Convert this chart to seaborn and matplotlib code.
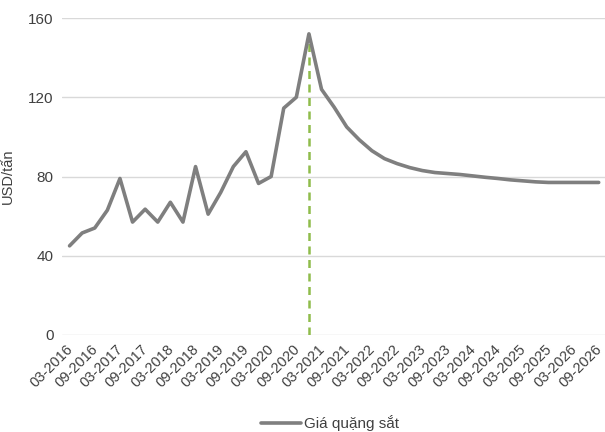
import numpy as np
import pandas as pd
import matplotlib
matplotlib.use("Agg")
import matplotlib.pyplot as plt
import matplotlib.transforms as mtransforms
import seaborn as sns

# quarterly iron ore price, 03-2016 .. 09-2026
months = ['03', '06', '09', '12']
periods = [f"{m}-{y}" for y in range(2016, 2027) for m in months][:43]
prices = [45, 51.5, 54, 63, 79, 57, 63.5, 57, 67, 57,
          85, 61, 72, 85, 92.5, 76.5, 80, 114.5, 120, 152,
          124, 115, 105, 98.5, 93, 89, 86.5, 84.5, 83, 82,
          81.5, 81, 80.3, 79.6, 79, 78.3, 77.8, 77.3, 77, 77,
          77, 77, 77]
peak_idx = 19
y_ticks = [0, 40, 80, 120, 160]
series_name = 'Giá quặng sắt'
y_label = 'USD/tấn'

df = pd.DataFrame({'idx': np.arange(len(prices)), 'price': prices, 'period': periods})

sns.set_style("white")
plt.rcParams['font.family'] = ['Liberation Sans', 'DejaVu Sans']

fig = plt.figure(figsize=(6.05, 4.32), dpi=100)
ax = fig.add_axes([62 / 605, 1 - 335 / 432, 543 / 605, 317 / 432])

# dashed marker at the peak
ax.vlines(peak_idx, 0, prices[peak_idx], colors='#8fbc4b', linestyles=(0, (3.2, 2.2)),
          linewidth=1.8, zorder=2)

sns.lineplot(data=df, x='idx', y='price', color='#7f7f7f', linewidth=2.6, ax=ax,
             label=series_name, zorder=3, legend=False)

ax.set_ylim(0, 160)
ax.set_xlim(-0.6, 42.5)
ax.set_yticks(y_ticks)
ax.set_yticklabels([str(v) for v in y_ticks], fontsize=11, color='#404040')
tick_pos = df['idx'][::2]
ax.set_xticks(tick_pos)
ax.set_xticklabels(df['period'][::2], rotation=45, ha='right', rotation_mode='anchor',
                   fontsize=10.5, color='#404040')
ax.tick_params(axis='y', length=0, pad=6)
ax.tick_params(axis='x', length=0, pad=5)
# nudge the rotated labels left so the last one stays inside the figure
shift = mtransforms.ScaledTranslation(-4 / 100, 0, fig.dpi_scale_trans)
for lbl in ax.get_xticklabels():
    lbl.set_transform(lbl.get_transform() + shift)
ax.yaxis.grid(True, color='#d9d9d9', linewidth=1)
ax.set_axisbelow(True)
for s in ax.spines.values():
    s.set_visible(False)

ax.set_xlabel('')
ax.set_ylabel(y_label, fontsize=10.5, color='#404040')
ax.yaxis.set_label_coords(-47 / 543, 0.5)

handles, labels = ax.get_legend_handles_labels()
fig.legend(handles, labels, loc='center', bbox_to_anchor=(330 / 605, 1 - 423 / 432),
           frameon=False, fontsize=11, handlelength=2.6, handletextpad=0.15,
           labelcolor='#404040')

fig.savefig('out.png', dpi=100)
